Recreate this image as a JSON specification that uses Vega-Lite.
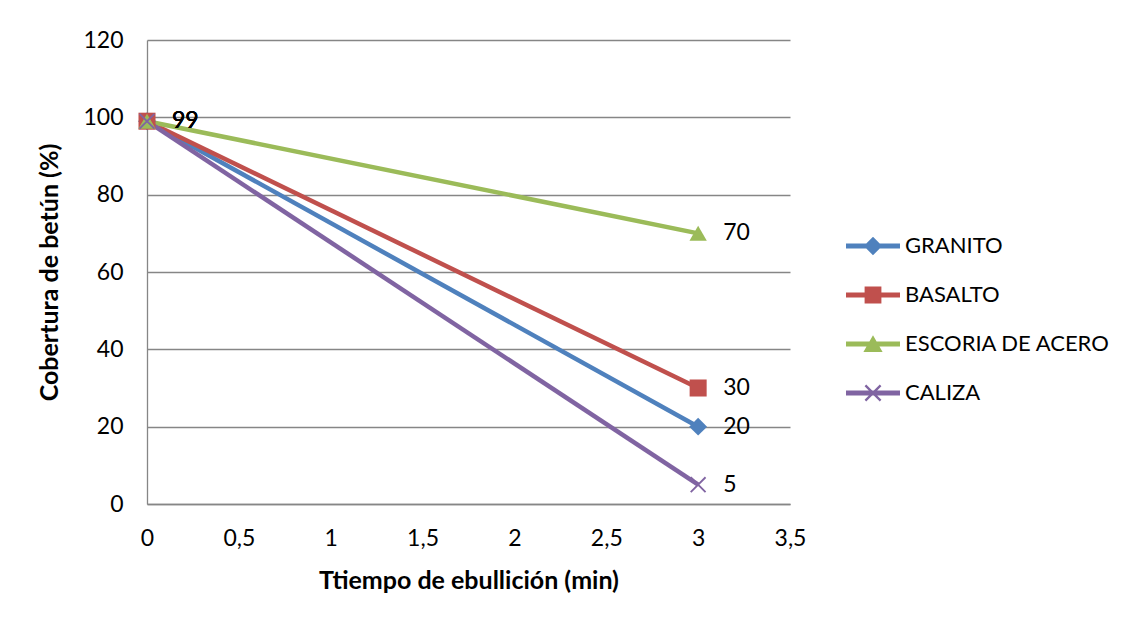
{
  "$schema": "https://vega.github.io/schema/vega-lite/v6.json",
  "width": 643,
  "height": 464,
  "autosize": {"type": "none"},
  "padding": {"left": 147, "top": 40, "right": 344, "bottom": 120},
  "background": "white",
  "config": {
    "font": "Lato",
    "view": {"stroke": null},
    "axis": {"labelFont": "Lato", "titleFont": "Lato", "labelColor": "black", "titleColor": "black"}
  },
  "data": {
    "values": [
      {"serie": "GRANITO", "tiempo": 0, "cobertura": 99},
      {"serie": "GRANITO", "tiempo": 3, "cobertura": 20},
      {"serie": "BASALTO", "tiempo": 0, "cobertura": 99},
      {"serie": "BASALTO", "tiempo": 3, "cobertura": 30},
      {"serie": "ESCORIA DE ACERO", "tiempo": 0, "cobertura": 99},
      {"serie": "ESCORIA DE ACERO", "tiempo": 3, "cobertura": 70},
      {"serie": "CALIZA", "tiempo": 0, "cobertura": 99},
      {"serie": "CALIZA", "tiempo": 3, "cobertura": 5}
    ]
  },
  "encoding": {
    "x": {
      "field": "tiempo", "type": "quantitative",
      "scale": {"domain": [0, 3.5], "nice": false, "zero": true},
      "axis": {
        "title": "Ttiempo de ebullición (min)",
        "values": [0, 0.5, 1, 1.5, 2, 2.5, 3, 3.5],
        "labelExpr": "replace(format(datum.value, '~g'), '.', ',')",
        "labelFlush": false,
        "grid": false, "ticks": false,
        "domainColor": "#868686", "domainWidth": 1.3,
        "labelFontSize": 23, "labelPadding": 23,
        "titleFontSize": 25, "titleFontWeight": "bold", "titlePadding": 18
      }
    },
    "y": {
      "field": "cobertura", "type": "quantitative",
      "scale": {"domain": [0, 120], "nice": false},
      "axis": {
        "title": "Cobertura de betún (%)",
        "values": [0, 20, 40, 60, 80, 100, 120],
        "grid": true, "gridColor": "#868686", "gridWidth": 1.3,
        "ticks": false,
        "domainColor": "#868686", "domainWidth": 1.3,
        "labelFontSize": 23, "labelPadding": 24,
        "titleFontSize": 25, "titleFontWeight": "bold", "titlePadding": 20
      }
    },
    "color": {
      "field": "serie", "type": "nominal",
      "scale": {
        "domain": ["GRANITO", "BASALTO", "ESCORIA DE ACERO", "CALIZA"],
        "range": ["#4F81BD", "#C0504D", "#9BBB59", "#8064A2"]
      },
      "legend": {
        "title": null,
        "orient": "none",
        "legendX": 706,
        "legendY": 186,
        "padding": 0,
        "symbolSize": 1600,
        "symbolStrokeWidth": 0,
        "labelFontSize": 22,
        "labelFont": "Lato",
        "labelColor": "black",
        "labelOffset": 12,
        "rowPadding": 18,
        "labelLimit": 300,
        "encode": {
          "symbols": {
            "update": {
              "fill": {"signal": "scale('color', datum.value)"},
              "stroke": {"value": "transparent"},
              "strokeWidth": {"value": 0},
              "opacity": {"value": 1},
              "shape": {"signal": "datum.value === 'GRANITO' ? 'M-1.35,-0.12H1.35V0.12H-1.35Z M0,-0.46L0.46,0L0,0.46L-0.46,0Z' : datum.value === 'BASALTO' ? 'M-1.35,-0.12H1.35V0.12H-1.35Z M-0.42,-0.42H0.42V0.42H-0.42Z' : datum.value === 'ESCORIA DE ACERO' ? 'M-1.35,-0.12H1.35V0.12H-1.35Z M0,-0.44L0.48,0.4H-0.48Z' : 'M-1.35,-0.12H1.35V0.12H-1.35Z M-0.42,-0.34L-0.34,-0.42L0.42,0.34L0.34,0.42Z M0.34,-0.42L0.42,-0.34L-0.34,0.42L-0.42,0.34Z'"}
            }
          }
        }
      }
    }
  },
  "layer": [
    {
      "mark": {"type": "line", "strokeWidth": 4.5},
      "encoding": {"order": {"field": "tiempo"}}
    },
    {
      "transform": [{"filter": "datum.serie === 'GRANITO'"}],
      "mark": {"type": "point", "filled": true, "opacity": 1, "size": 320, "shape": "diamond"}
    },
    {
      "transform": [{"filter": "datum.serie === 'BASALTO'"}],
      "mark": {"type": "point", "filled": true, "opacity": 1, "size": 290, "shape": "square"}
    },
    {
      "transform": [{"filter": "datum.serie === 'ESCORIA DE ACERO'"}],
      "mark": {"type": "point", "filled": true, "opacity": 1, "size": 300, "shape": "triangle-up"}
    },
    {
      "transform": [{"filter": "datum.serie === 'CALIZA'"}],
      "mark": {"type": "point", "filled": true, "opacity": 1, "size": 260, "shape": "M-1,-0.84L-0.84,-1L1,0.84L0.84,1Z M0.84,-1L1,-0.84L-0.84,1L-1,0.84Z"}
    },
    {
      "mark": {"type": "text", "align": "left", "baseline": "middle", "dx": 25, "fontSize": 23, "font": "Lato", "color": "black"},
      "encoding": {
        "text": {"field": "cobertura", "type": "quantitative"},
        "color": {"value": "black"}
      }
    }
  ]
}
